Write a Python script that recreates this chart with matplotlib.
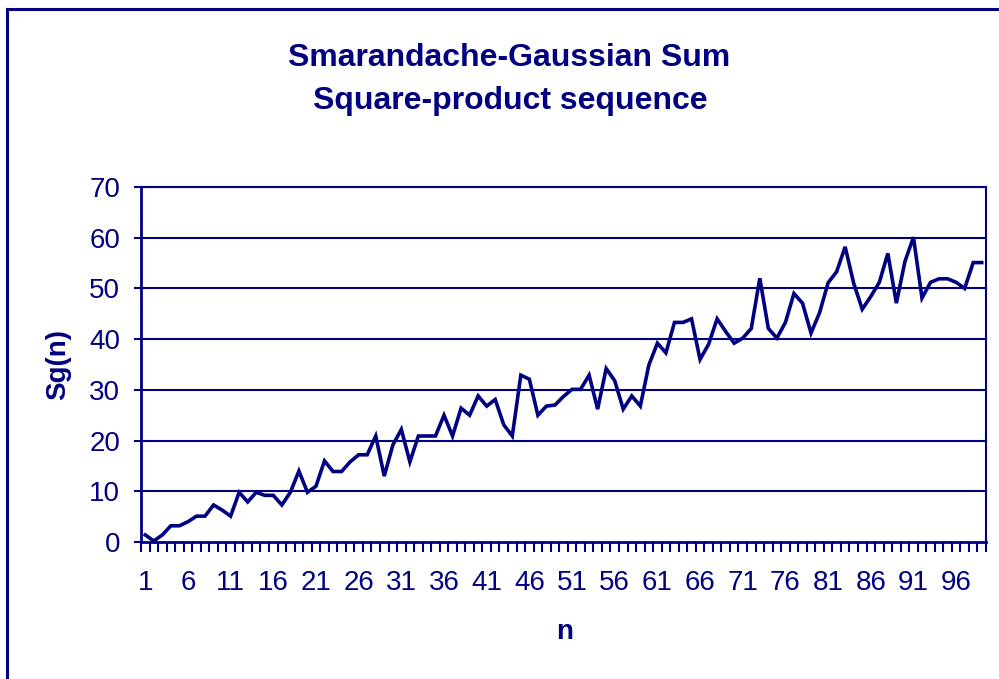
import matplotlib
matplotlib.use("Agg")
import matplotlib.pyplot as plt
from matplotlib.lines import Line2D
import numpy as np

plt.rcParams['font.family'] = ['Liberation Sans', 'DejaVu Sans']

NAVY = '#000080'

n_values = list(range(1, 100))
sg_values = [1.4, 0.2, 1.4, 3.2, 3.2, 4.0, 5.1, 5.1, 7.3, 6.3,
             5.1, 9.8, 7.9, 9.8, 9.2, 9.2, 7.3, 9.8, 14.0, 9.8,
             11.0, 16.0, 13.9, 13.9, 15.8, 17.2, 17.2, 20.9, 13.0, 19.1,
             22.2, 15.8, 20.9, 20.9, 20.9, 25.0, 20.9, 26.4, 25.0, 28.8,
             26.8, 28.1, 23.1, 20.9, 32.9, 32.1, 25.0, 26.8, 27.0, 28.7,
             30.1, 30.1, 32.9, 26.2, 34.2, 31.8, 26.2, 28.8, 26.8, 34.9,
             39.2, 37.3, 43.3, 43.3, 44.0, 36.0, 39.0, 44.0, 41.5, 39.2,
             40.2, 42.1, 52.0, 42.1, 40.2, 43.3, 49.0, 47.1, 41.2, 45.2,
             51.1, 53.3, 58.2, 51.0, 45.9, 48.4, 51.2, 56.9, 47.1, 55.3,
             60.1, 48.1, 51.2, 51.9, 51.9, 51.2, 50.0, 55.1, 55.1]
y_ticks = [0, 10, 20, 30, 40, 50, 60, 70]
title_lines = ["Smarandache-Gaussian Sum", "Square-product sequence"]
x_label = "n"
y_label = "Sg(n)"

W, H = 999, 679
fig = plt.figure(figsize=(W / 100, H / 100), dpi=100)
fig.patch.set_facecolor('white')

left, right, top, bottom = 141, 986, 187, 542
ax = fig.add_axes([left / W, 1 - bottom / H, (right - left) / W, (bottom - top) / H])

idx = np.arange(len(n_values))
ax.plot(idx, sg_values, color=NAVY, lw=2.6, solid_joinstyle='miter', zorder=3)

ax.set_xlim(-0.5, len(n_values) - 0.5)
ax.set_ylim(0, 70)

# y axis
ax.set_yticks(y_ticks)
ax.set_yticklabels([str(v) for v in y_ticks], fontsize=20, color=NAVY)
ax.tick_params(axis='y', direction='out', length=5, width=1.5, color=NAVY, pad=10)
for v in y_ticks[1:]:
    ax.axhline(v, color=NAVY, lw=1.5, zorder=1)

# x axis: ticks at category boundaries, labels at every 5th category
ax.set_xticks(np.arange(-0.5, len(n_values) + 0.5, 1.0))
ax.set_xticklabels([])
ax.tick_params(axis='x', which='major', direction='out', length=7, width=1.5, color=NAVY)
lab_idx = idx[::5]
ax.set_xticks(lab_idx, minor=True)
ax.set_xticklabels([str(n_values[i]) for i in lab_idx], minor=True, fontsize=20, color=NAVY)
ax.tick_params(axis='x', which='minor', length=0, pad=20)

for s in ['left', 'bottom']:
    ax.spines[s].set_color(NAVY)
    ax.spines[s].set_linewidth(2)
for s in ['top', 'right']:
    ax.spines[s].set_color(NAVY)
    ax.spines[s].set_linewidth(1.5)

# axis labels
fig.text(58 / W, 1 - 365 / H, y_label, rotation=90, ha='center', va='center',
         fontsize=20, fontweight='bold', color=NAVY)
fig.text(565 / W, 1 - 632 / H, x_label, ha='center', va='center',
         fontsize=20, fontweight='bold', color=NAVY)

# title
fig.text(509 / W, 1 - 58 / H, title_lines[0], ha='center', va='center',
         fontsize=23, fontweight='bold', color=NAVY)
fig.text(510 / W, 1 - 101 / H, title_lines[1], ha='center', va='center',
         fontsize=23, fontweight='bold', color=NAVY)

# outer chart border (extends beyond the image on right/bottom)
fig.add_artist(Line2D([7 / W, 7 / W], [1 - 9 / H, -0.01], transform=fig.transFigure,
                      color=NAVY, lw=2.2))
fig.add_artist(Line2D([7 / W, 1.01], [1 - 9 / H, 1 - 9 / H], transform=fig.transFigure,
                      color=NAVY, lw=2.2))

fig.savefig('out.png', dpi=100, facecolor='white')
